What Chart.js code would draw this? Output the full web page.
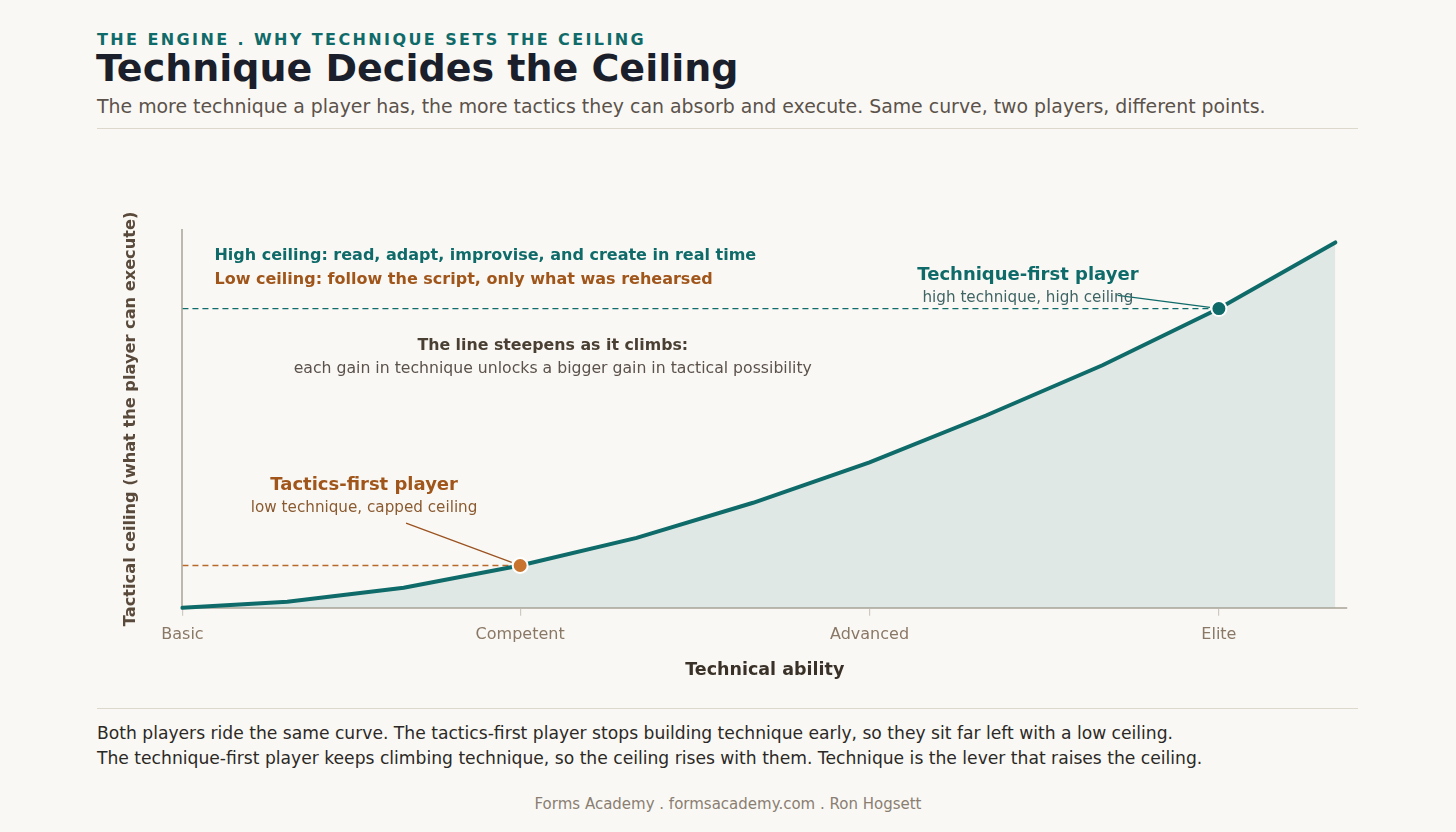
<!DOCTYPE html>
<html>
<head>
<meta charset="utf-8">
<script src="https://cdn.jsdelivr.net/npm/chart.js@4.4.1/dist/chart.umd.min.js"></script>
<style>
  body { margin: 0; width: 1456px; height: 832px; background: #faf8f4; position: relative; overflow: hidden;
         font-family: "DejaVu Sans", sans-serif; }
  .abs { position: absolute; white-space: nowrap; line-height: 1; }
  .kicker { left: 97px; top: 32px; font-size: 16px; font-weight: bold; letter-spacing: 2.4px; color: #0f6b69; }
  .title { left: 96px; top: 49px; font-size: 38px; font-weight: bold; color: #1a1f2b; }
  .sub { left: 97px; top: 97px; font-size: 18.9px; color: #5b524b; }
  .rule { position: absolute; left: 97px; width: 1261px; height: 1px; background: #ddd8cc; }
  .foot { left: 97px; top: 721px; font-size: 17.15px; line-height: 25px; color: #2b2926; }
  .credit { left: 0; width: 1456px; text-align: center; top: 797px; font-size: 15px; color: #8a7e72; }
  #wrap { position: absolute; left: 0; top: 140px; width: 1456px; height: 560px; }
</style>
</head>
<body>
<div class="abs kicker">THE ENGINE . WHY TECHNIQUE SETS THE CEILING</div>
<div class="abs title">Technique Decides the Ceiling</div>
<div class="abs sub">The more technique a player has, the more tactics they can absorb and execute. Same curve, two players, different points.</div>
<div class="rule" style="top:128px"></div>
<div id="wrap"><canvas id="chart" width="1456" height="560"></canvas></div>
<div class="rule" style="top:708px"></div>
<div class="abs foot">Both players ride the same curve. The tactics-first player stops building technique early, so they sit far left with a low ceiling.<br>The technique-first player keeps climbing technique, so the ceiling rises with them. Technique is the lever that raises the ceiling.</div>
<div class="abs credit">Forms Academy . formsacademy.com . Ron Hogsett</div>

<script>
// data
const techLevels = [0, 0.9, 1.9, 2.9, 3.9, 4.9, 5.9, 6.9, 7.9, 8.9, 9.9];
const ceiling = [0, 1.6, 5.3, 11.2, 18.5, 27.8, 38.5, 50.9, 64.2, 79.2, 96.7];
const tickValues = [0, 2.9, 5.9, 8.9];
const tickLabels = ["Basic", "Competent", "Advanced", "Elite"];
const tacticsIdx = 3;
const techniqueIdx = 9;

const TEAL = "#0f6b69";
const ORANGE = "#c8742e";
const BROWN = "#a0561b";
const FONT = '"DejaVu Sans", sans-serif';

const curve = techLevels.map((x, i) => ({ x: x, y: ceiling[i] }));
const radii = techLevels.map((x, i) => (i === tacticsIdx || i === techniqueIdx ? 7.5 : 0));
const dotColors = techLevels.map((x, i) => (i === tacticsIdx ? ORANGE : TEAL));

function guide(idx) {
  return [{ x: 0, y: ceiling[idx] }, { x: techLevels[idx], y: ceiling[idx] }];
}

// annotation texts, placed in data units
const notes = [
  { x: 0.275, y: 93.1, text: "High ceiling: read, adapt, improvise, and create in real time", color: TEAL, font: "bold 16px " + FONT, align: "left" },
  { x: 0.275, y: 86.7, text: "Low ceiling: follow the script, only what was rehearsed", color: BROWN, font: "bold 16px " + FONT, align: "left" },
  { x: 3.18, y: 69.2, text: "The line steepens as it climbs:", color: "#4a3f33", font: "bold 15.8px " + FONT, align: "center" },
  { x: 3.18, y: 63.3, text: "each gain in technique unlocks a bigger gain in tactical possibility", color: "#5b524b", font: "15.7px " + FONT, align: "center" },
  { x: 1.56, y: 32.5, text: "Tactics-first player", color: BROWN, font: "bold 18px " + FONT, align: "center" },
  { x: 1.56, y: 26.4, text: "low technique, capped ceiling", color: "#8a5a30", font: "15.2px " + FONT, align: "center" },
  { x: 7.26, y: 88.0, text: "Technique-first player", color: TEAL, font: "bold 18px " + FONT, align: "center" },
  { x: 7.26, y: 81.9, text: "high technique, high ceiling", color: "#3f6464", font: "15.2px " + FONT, align: "center" }
];
const connectors = [
  { x: 1.92, y: 22.4, idx: tacticsIdx, color: "#9a5220" },
  { x: 8.03, y: 82.7, idx: techniqueIdx, color: TEAL }
];

const notesPlugin = {
  id: "notes",
  afterDatasetsDraw(chart) {
    const { ctx, scales: { x, y } } = chart;
    ctx.save();
    connectors.forEach(c => {
      const x0 = x.getPixelForValue(c.x), y0 = y.getPixelForValue(c.y);
      const x1 = x.getPixelForValue(techLevels[c.idx]), y1 = y.getPixelForValue(ceiling[c.idx]);
      const len = Math.hypot(x1 - x0, y1 - y0);
      const k = (len - 9) / len;
      ctx.beginPath();
      ctx.moveTo(x0, y0);
      ctx.lineTo(x0 + (x1 - x0) * k, y0 + (y1 - y0) * k);
      ctx.strokeStyle = c.color;
      ctx.lineWidth = 1.3;
      ctx.stroke();
    });
    ctx.textBaseline = "middle";
    notes.forEach(n => {
      ctx.font = n.font;
      ctx.fillStyle = n.color;
      ctx.textAlign = n.align;
      ctx.fillText(n.text, x.getPixelForValue(n.x), y.getPixelForValue(n.y));
    });
    ctx.restore();
  }
};

new Chart(document.getElementById("chart").getContext("2d"), {
  type: "line",
  data: {
    datasets: [
      {
        data: curve,
        borderColor: TEAL,
        borderWidth: 4,
        borderCapStyle: "round",
        backgroundColor: "rgba(15,107,105,0.11)",
        fill: "origin",
        tension: 0,
        pointRadius: radii,
        pointBackgroundColor: dotColors,
        pointBorderColor: "#ffffff",
        pointBorderWidth: 2,
        clip: false,
        order: 0
      },
      {
        data: guide(tacticsIdx),
        borderColor: "#b86a2c",
        borderWidth: 1.4,
        borderDash: [6, 4],
        pointRadius: 0,
        fill: false,
        order: 1
      },
      {
        data: guide(techniqueIdx),
        borderColor: TEAL,
        borderWidth: 1.4,
        borderDash: [6, 4],
        pointRadius: 0,
        fill: false,
        order: 2
      }
    ]
  },
  options: {
    responsive: false,
    animation: false,
    events: [],
    layout: { padding: { left: 0, right: 109, top: 90, bottom: 0 } },
    plugins: { legend: { display: false }, tooltip: { enabled: false } },
    scales: {
      x: {
        type: "linear",
        min: 0,
        max: 10,
        afterBuildTicks: axis => { axis.ticks = tickValues.map(v => ({ value: v })); },
        ticks: {
          padding: 9,
          color: "#8a7866",
          font: { family: FONT, size: 16 },
          callback: v => tickLabels[tickValues.indexOf(v)]
        },
        grid: { drawOnChartArea: false, drawTicks: true, tickLength: 8, color: "#cfcac0", lineWidth: 1.2 },
        border: { color: "#bdb8ad", width: 2 },
        title: {
          display: true,
          text: "Technical ability",
          color: "#3a3228",
          font: { family: FONT, size: 17.5, weight: "bold" },
          padding: { top: 7, bottom: 19 }
        }
      },
      y: {
        min: 0,
        max: 100,
        ticks: { display: false },
        grid: { display: false },
        border: { color: "#bdb8ad", width: 2 },
        title: {
          display: true,
          text: "Tactical ceiling (what the player can execute)",
          color: "#5a4a3c",
          font: { family: FONT, size: 16.2, weight: "bold" },
          padding: { top: 121, bottom: 34 }
        }
      }
    }
  },
  plugins: [notesPlugin]
});
</script>
</body>
</html>
